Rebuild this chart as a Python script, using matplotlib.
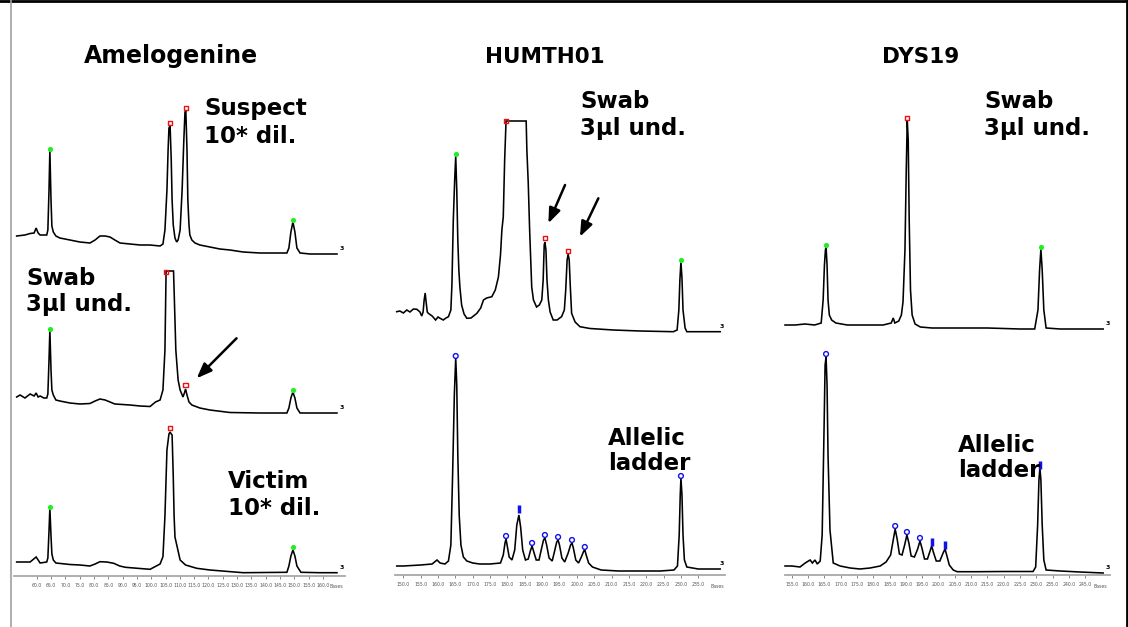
import matplotlib
matplotlib.use('Agg')
import matplotlib.pyplot as plt
from matplotlib.lines import Line2D

W, H = 1128, 627

# ---------------- DATA (x: size in bases, y: signal) ----------------
# Amelogenine - Suspect 10* dil.
a1_bp = [53.0, 55.9, 57.7, 59.1, 59.8, 60.5, 61.2, 63.5, 63.9, 64.3, 64.6, 65.0, 65.3, 65.8, 66.7, 68.1,
         71.6, 75.1, 78.6, 80.4, 82.1, 83.9, 85.6, 87.3, 89.1, 92.6, 96.1, 99.6, 103.1, 104.1, 104.8,
         105.5, 105.9, 106.2, 106.6, 107.0, 107.3, 107.7, 108.3, 108.9, 109.4, 110.1, 110.8, 111.4,
         111.8, 112.1, 112.5, 112.8, 113.2, 113.5, 114.2, 115.3, 117.0, 120.5, 124.0, 127.5, 132.1,
         138.0, 145.0, 147.4, 148.1, 148.8, 149.5, 150.2, 150.9, 152.0, 155.5, 158.9, 164.9]
a1_sig = [24, 25, 26.5, 27, 32, 27, 25, 25, 30, 70, 110, 60, 34, 28, 24, 22,
          20, 18, 17, 20, 24, 24, 23, 20, 17, 16, 15, 15, 14, 16, 30,
          70, 110, 132, 134, 100, 60, 35, 22, 18, 20, 30, 70, 120,
          148, 149, 110, 60, 35, 25, 20, 17, 15, 13, 11, 10, 8,
          7, 7, 7, 12, 28, 38, 28, 12, 7, 6, 6, 6]
a1_green_bp = [64.6, 149.5]
a1_green_sig = [111, 40]
a1_red_bp = [106.6, 112.1]
a1_red_sig = [137, 152]

# Amelogenine - Swab 3ul und.
a2_bp = [53.0, 54.2, 55.9, 57.7, 59.1, 59.8, 60.5, 61.2, 62.5, 63.5, 63.9, 64.3, 64.6, 65.0, 65.3, 65.8,
         66.7, 68.1, 71.6, 75.1, 78.6, 80.4, 82.1, 83.9, 85.6, 87.3, 92.6, 96.1, 99.6, 101.5, 103.1,
         104.1, 104.8, 105.2, 105.5, 107.8, 108.1, 108.6, 109.4, 110.1, 111.1, 111.6, 112.0, 112.5,
         113.2, 114.2, 117.0, 120.5, 127.5, 138.0, 147.4, 148.1, 148.8, 149.5, 150.2, 150.9, 152.0,
         158.9, 164.9]
a2_sig = [23, 25, 22, 26, 24, 27, 23, 24, 22, 22, 26, 60, 90, 50, 30, 25,
          20, 19, 17, 16, 16.5, 19, 21, 20, 18, 16, 15, 14, 13.5, 18, 20,
          30, 70, 149, 149, 149, 120, 70, 40, 30, 23, 27, 31, 25,
          18, 15, 12, 10, 7.5, 7, 7, 12, 22, 28, 22, 12, 7,
          7, 7]
a2_green_bp = [64.6, 149.5]
a2_green_sig = [91, 30]
a2_red_bp = [105.2, 112.0]
a2_red_sig = [148, 35]

# Amelogenine - Victim 10* dil.
a3_bp = [53.0, 57.7, 59.8, 61.2, 63.5, 63.9, 64.3, 64.6, 65.0, 65.3, 65.8, 66.7, 71.6, 75.1, 78.6,
         80.4, 82.1, 84.5, 86.9, 89.0, 91.0, 96.1, 99.6, 103.1, 104.1, 104.8, 105.5, 106.2, 106.6,
         107.0, 107.3, 107.7, 108.0, 108.3, 110.1, 112.0, 115.9, 120.5, 132.1, 147.4, 148.1, 148.8,
         149.5, 150.2, 150.9, 152.3, 158.9, 164.9]
a3_sig = [14, 14, 19, 13, 14, 18, 45, 68, 40, 22, 16, 13, 11.5, 11, 10,
          12, 14.3, 14, 12.7, 10, 8.7, 7.5, 6.7, 12, 19.3, 60, 126, 142, 144,
          142, 141, 100, 60, 39, 16, 11, 7.7, 6, 3.3, 3.7, 10, 20,
          26, 20, 10, 3.7, 3.3, 3.3]
a3_green_bp = [64.6, 149.5]
a3_green_sig = [69, 29]
a3_red_bp = [106.6]
a3_red_sig = [148]

# HUMTH01 - Swab 3ul und.
b1_bp = [148.1, 149.0, 150.0, 151.0, 151.9, 152.9, 153.9, 154.8, 155.3, 155.7, 156.0, 156.3, 156.5,
         156.9, 157.2, 158.3, 159.3, 160.0, 160.6, 161.5, 162.3, 163.0, 163.7, 164.0, 164.4, 164.8,
         165.1, 165.4, 165.7, 166.0, 166.3, 166.8, 167.5, 168.3, 169.5, 171.2, 172.3, 173.1, 174.0,
         175.5, 176.5, 177.4, 178.0, 178.4, 178.8, 179.2, 179.6, 185.4, 185.6, 186.0, 186.4, 187.0,
         187.5, 188.4, 189.2, 189.9, 190.3, 190.6, 190.8, 191.1, 191.4, 191.8, 192.3, 193.2, 194.3,
         195.6, 196.4, 196.8, 197.2, 197.5, 197.8, 198.1, 198.5, 199.5, 200.9, 203.8, 210.5, 218.2,
         227.8, 228.9, 229.4, 229.7, 230.0, 230.3, 230.6, 231.2, 231.7, 235.5, 241.3]
b1_sig = [28.3, 29, 27, 30, 28, 31, 30.7, 28, 24, 28, 40, 47, 40,
          28, 26.7, 24, 20, 23, 21.7, 20, 22, 23.3, 30, 55, 120, 160,
          184, 150, 100, 70, 53, 35, 26, 21.7, 22, 26.7, 32, 40, 42,
          43.3, 50, 63, 85, 110, 123, 180, 219, 219, 190, 157, 110, 53,
          40, 33, 35, 40, 60, 95, 98, 90, 60, 40, 28, 20, 20,
          23.3, 30, 50, 80, 86, 80, 55, 26.7, 18, 13.3, 11.5, 10, 9,
          8.3, 10, 30, 60, 78, 62, 30, 12, 8.3, 8.3, 8.3]
b1_green_bp = [165.1, 230.0]
b1_green_sig = [186, 80]
b1_red_bp = [179.5, 190.8, 197.5]
b1_red_sig = [219, 102, 89]

# HUMTH01 - Allelic ladder
b2_bp = [148.1, 150.0, 155.0, 158.3, 159.7, 160.6, 162.0, 163.0, 163.7, 164.2, 164.7, 165.1, 165.4,
         165.7, 166.1, 166.6, 167.3, 168.3, 170.0, 172.0, 175.0, 178.0, 178.8, 179.3, 179.6, 179.9,
         180.5, 181.3, 182.1, 182.7, 183.3, 183.8, 184.4, 185.2, 186.0, 186.6, 187.1, 187.6, 188.3,
         189.1, 189.8, 190.4, 190.8, 191.3, 192.0, 192.9, 193.6, 194.2, 194.6, 195.0, 195.7, 196.5,
         197.5, 198.2, 198.6, 199.0, 199.7, 200.5, 201.3, 202.0, 202.3, 202.7, 203.4, 204.5, 207.0,
         212.0, 218.0, 224.0, 228.0, 229.0, 229.5, 229.8, 230.0, 230.3, 230.6, 231.0, 231.7, 235.0,
         241.3]
b2_sig = [9, 9, 10, 11, 15, 12, 11, 14, 30, 100, 180, 217, 190,
          120, 60, 30, 18, 14, 12, 11, 11, 12, 20, 32, 36, 30,
          18, 15, 25, 50, 60, 48, 25, 15, 16, 24, 29, 23, 15,
          15, 26, 35, 37, 30, 17, 14, 24, 33, 35, 30, 17, 13,
          22, 30, 32, 27, 15, 12, 18, 24, 25, 20, 12, 8, 5,
          4, 4, 4, 5, 9, 40, 80, 97, 80, 40, 15, 8, 6,
          6]
b2_circle_bp = [165.1, 179.6, 187.1, 190.8, 194.6, 198.6, 202.3, 230.0]
b2_circle_sig = [219, 39, 32, 40, 38, 35, 28, 99]
b2_bar_bp = [183.3]
b2_bar_sig = [66]

# DYS19 - Swab 3ul und.
c1_bp = [152.9, 156.0, 159.0, 162.0, 164.0, 164.6, 165.0, 165.3, 165.5, 165.8, 166.1, 166.5, 167.2,
         168.5, 172.0, 178.0, 183.0, 185.5, 186.1, 186.6, 187.8, 188.6, 189.1, 189.7, 190.1, 190.4,
         190.7, 191.0, 191.4, 191.9, 192.8, 194.4, 198.0, 205.0, 215.0, 225.0, 229.5, 230.5, 231.0,
         231.4, 231.8, 232.3, 233.0, 237.3, 243.4, 250.5]
c1_sig = [15, 15, 16, 15, 17, 40, 75, 90, 93, 75, 40, 25, 20,
          17, 15, 15, 15, 17, 22, 17, 19, 25, 38, 90, 170, 220,
          200, 120, 50, 25, 16, 13, 12, 12, 12, 11, 11, 30, 70,
          91, 70, 30, 12, 11, 11, 11]
c1_green_bp = [165.5, 231.4]
c1_green_sig = [95, 93]
c1_red_bp = [190.4]
c1_red_sig = [222]

# DYS19 - Allelic ladder
c2_bp = [152.9, 155.0, 157.5, 159.1, 160.6, 161.3, 162.1, 162.8, 163.7, 164.3, 164.9, 165.2, 165.5,
         165.8, 166.1, 166.7, 167.7, 169.8, 172.9, 175.9, 179.0, 182.1, 183.9, 185.3, 186.1, 186.7,
         187.3, 188.0, 188.8, 189.6, 190.3, 190.9, 191.6, 192.6, 193.6, 194.3, 194.9, 195.7, 196.6,
         197.4, 197.9, 198.4, 199.3, 200.4, 201.4, 202.0, 202.5, 203.3, 204.5, 205.7, 212.0, 220.0,
         229.0, 229.8, 230.4, 230.8, 231.1, 231.4, 231.8, 232.3, 233.0, 237.3, 243.4, 250.5]
c2_sig = [9, 9, 8, 12, 15, 12, 15, 11, 14, 40, 150, 210, 218,
          190, 120, 45, 12, 9, 7, 6, 7, 9, 13, 20, 35, 46,
          36, 21, 20, 30, 40, 32, 19, 18, 26, 34, 27, 16, 16,
          24, 29, 23, 14, 14, 22, 26, 20, 10, 5, 3.3, 3.3, 3.5,
          3.5, 8, 50, 95, 107, 95, 50, 15, 5, 4, 3, 2]
c2_circle_bp = [165.5, 186.7, 190.3, 194.3]
c2_circle_sig = [221, 49, 43, 37]
c2_bar_bp = [197.9, 202.0, 231.1]
c2_bar_sig = [33, 30, 110]

# Tick labels (bases)
left_ticks = list(range(60, 165, 5))
mid_ticks = list(range(150, 240, 5))
right_ticks = list(range(155, 250, 5))

titles = ["Amelogenine", "HUMTH01", "DYS19"]

# ---------------- FIGURE ----------------
fig = plt.figure(figsize=(W / 100, H / 100), dpi=100)
fig.patch.set_facecolor('white')


def add_ax(x0, x1, y0, y1, xlim):
    ax = fig.add_axes([x0 / W, 1 - y1 / H, (x1 - x0) / W, (y1 - y0) / H])
    ax.set_xlim(*xlim)
    ax.set_ylim(0, y1 - y0)
    ax.patch.set_alpha(0)
    for s in ax.spines.values():
        s.set_visible(False)
    ax.set_xticks([])
    ax.set_yticks([])
    return ax


def trace(ax, xs, ys):
    ax.plot(xs, ys, color='black', lw=1.15, solid_joinstyle='miter', clip_on=False)
    ax.text(0.985, ys[-1] + 3, '3', transform=ax.get_yaxis_transform(), fontsize=4.5,
            fontweight='bold', ha='left', va='bottom')


def green(ax, xs, ys):
    ax.scatter(xs, ys, s=14, color='#22ee22', zorder=5, clip_on=False, linewidths=0)


def red(ax, xs, ys):
    ax.scatter(xs, ys, s=9, marker='s', facecolor='none', edgecolor='#ee1111', lw=1.0, zorder=5, clip_on=False)


def blue_circle(ax, xs, ys):
    ax.scatter(xs, ys, s=12, marker='o', facecolor='none', edgecolor='#1111ee', lw=1.0, zorder=5, clip_on=False)


def blue_bar(ax, xs, ys):
    ax.scatter(xs, ys, s=30, marker='|', color='#1111ee', lw=2.5, zorder=5, clip_on=False)


def bottom_axis(ax, ticks, bases_x):
    ax.spines['bottom'].set_visible(True)
    ax.spines['bottom'].set_color('#a8a8a8')
    ax.spines['bottom'].set_linewidth(1.3)
    ax.set_xticks(ticks)
    ax.set_xticklabels([f"{t:.1f}" for t in ticks], fontsize=3.3, color='#555555')
    ax.tick_params(axis='x', length=2.5, width=0.7, color='#888888', pad=2.5)
    ax.text(bases_x, -8.5, 'Bases', fontsize=3.3, color='#555555', ha='center', va='top')


def arrow(ax, x0, y0, x1, y1):
    ax.annotate('', xy=(x1, y1), xytext=(x0, y0),
                arrowprops=dict(arrowstyle='-|>,head_length=0.9,head_width=0.35', lw=1.8,
                                color='black', shrinkA=0, shrinkB=0), annotation_clip=False)


# Left column
LX = (52.07, 167.7)
a1 = add_ax(14, 345, 100, 260, LX)
trace(a1, a1_bp, a1_sig); green(a1, a1_green_bp, a1_green_sig); red(a1, a1_red_bp, a1_red_sig)
a2 = add_ax(14, 345, 260, 420, LX)
trace(a2, a2_bp, a2_sig); green(a2, a2_green_bp, a2_green_sig); red(a2, a2_red_bp, a2_red_sig)
arrow(a2, 129.8, 81.7, 115.9, 41.7)
a3 = add_ax(14, 345, 420, 576, LX)
trace(a3, a3_bp, a3_sig); green(a3, a3_green_bp, a3_green_sig); red(a3, a3_red_bp, a3_red_sig)
bottom_axis(a3, left_ticks, 164.6)

# Middle column
MX = (147.6, 242.7)
b1 = add_ax(395, 725, 100, 340, MX)
trace(b1, b1_bp, b1_sig); green(b1, b1_green_bp, b1_green_sig); red(b1, b1_red_bp, b1_red_sig)
arrow(b1, 196.6, 155, 191.8, 116.7)
arrow(b1, 206.2, 141.7, 200.9, 103.3)
b2 = add_ax(395, 725, 340, 575, MX)
trace(b2, b2_bp, b2_sig); blue_circle(b2, b2_circle_bp, b2_circle_sig); blue_bar(b2, b2_bar_bp, b2_bar_sig)
bottom_axis(b2, mid_ticks, 240.5)

# Right column
RX = (152.9, 252.6)
c1 = add_ax(785, 1110, 100, 340, RX)
trace(c1, c1_bp, c1_sig); green(c1, c1_green_bp, c1_green_sig); red(c1, c1_red_bp, c1_red_sig)
c2 = add_ax(785, 1110, 340, 575, RX)
trace(c2, c2_bp, c2_sig); blue_circle(c2, c2_circle_bp, c2_circle_sig); blue_bar(c2, c2_bar_bp, c2_bar_sig)
bottom_axis(c2, right_ticks, 249.7)


def ftext(x, y, s, size=16, ha='left', va='baseline', ls=1.0):
    fig.text(x / W, 1 - y / H, s, fontsize=size, fontweight='bold', ha=ha, va=va,
             family='DejaVu Sans', linespacing=ls)


# Titles
ftext(171, 63, titles[0], size=17, ha='center')
ftext(545, 63, titles[1], size=15.5, ha='center')
ftext(921, 63, titles[2], size=15.5, ha='center')

# Sample labels
ftext(204, 115, "Suspect", size=16.5)
ftext(204, 143, "10* dil.", size=16.5)
ftext(26, 285, "Swab", size=16.5)
ftext(26, 311, "3µl und.", size=16.5)
ftext(228, 488, "Victim", size=16.5)
ftext(228, 515, "10* dil.", size=16.5)
ftext(580, 108, "Swab", size=16.5)
ftext(580, 135, "3µl und.", size=16.5)
ftext(984, 108, "Swab", size=16.5)
ftext(984, 135, "3µl und.", size=16.5)
ftext(608, 445, "Allelic", size=16.5)
ftext(608, 470, "ladder", size=16.5)
ftext(958, 452, "Allelic", size=16.5)
ftext(958, 477, "ladder", size=16.5)

# Frame: black top and right edges, grey left rule
fig.add_artist(Line2D([0, 1], [1 - 1 / H, 1 - 1 / H], transform=fig.transFigure, color='black', lw=2))
fig.add_artist(Line2D([1 - 1 / W, 1 - 1 / W], [0, 1], transform=fig.transFigure, color='black', lw=2))
fig.add_artist(Line2D([10.5 / W, 10.5 / W], [0, 1], transform=fig.transFigure, color='#a0a0a0', lw=1.2))

fig.savefig('out.png', dpi=100)
